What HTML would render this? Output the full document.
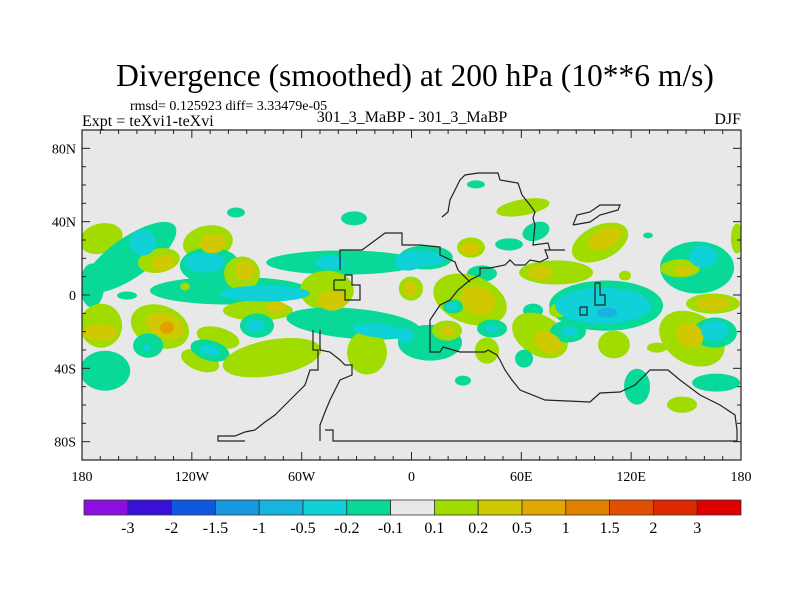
<!DOCTYPE html>
<html><head><meta charset="utf-8"><style>
body{margin:0;background:#fff;}
svg{display:block;font-family:"Liberation Serif",serif;}
</style></head><body>
<svg id="chart" width="800" height="600" viewBox="0 0 800 600">
<rect width="800" height="600" fill="#fff"/>
<text x="415" y="86" font-size="31.5" text-anchor="middle">Divergence (smoothed) at 200 hPa (10**6 m/s)</text>
<text x="130" y="110" font-size="14">rmsd= 0.125923 diff= 3.33479e-05</text>
<text x="82" y="126" font-size="16">Expt = teXvi1-teXvi</text>
<text x="412" y="122" font-size="16" text-anchor="middle">301_3_MaBP - 301_3_MaBP</text>
<text x="741" y="124" font-size="16" text-anchor="end">DJF</text>
<defs><clipPath id="pc"><rect x="82" y="130" width="659" height="330"/></clipPath></defs>
<rect x="82" y="130" width="659" height="330" fill="#e8e8e8"/>
<g id="blobs" clip-path="url(#pc)"></g>
<g id="coast" fill="none" stroke="#222" stroke-width="1.2" clip-path="url(#pc)">
<polyline points="442,217 448,212 450,200 455,190 460,180 465,175 478,173 498,173 500,180 518,183 522,195 530,205 535,212 533,218 535,225 533,245 548,243 550,250 565,250 545,250 548,258 540,262 530,260 525,265 515,265 510,260 505,265 490,268 480,268 480,275 470,280 458,290 450,300 440,305 430,320 430,352 440,352 443,347 460,352 485,352 488,350 497,355 500,360 505,370 512,380 520,390 545,400 590,402 600,393 620,392 635,385 650,370 668,370 680,380 700,395 720,405 735,415 737,430 737,441 333,441 333,430 325,430"/>
<polyline points="313,330 313,350 318,350 318,370 310,370 305,385 295,395 285,405 275,415 265,422 255,430 245,432 235,436 218,436 218,441 245,441"/>
<polyline points="320,330 320,350 330,352 340,360 345,365 352,365 352,375 340,380 335,390 330,400 325,412 320,425 320,441"/>
<polyline points="340,270 340,250 362,250 385,233 402,233 402,245 420,245 440,247 440,255 455,262 458,270 470,282"/>
<polyline points="334,280 345,280 345,275 352,275 352,285 360,285 360,300 345,300 345,290 334,290 334,280"/>
<polyline points="573,225 577,215 590,212 600,205 620,205 618,210 600,215 590,222 573,225"/>
<polyline points="595,283 600,283 600,295 605,295 605,305 595,305 595,283"/>
<polyline points="580,307 587,307 587,315 580,315 580,307"/>
</g>
<rect x="82" y="130" width="659" height="330" fill="none" stroke="#222" stroke-width="1.2"/>
<g id="axes" font-size="14"></g>
<g id="cbar"></g>
</svg>
<script>
const NS='http://www.w3.org/2000/svg';
const X0=82,X1=741,Y0=130,Y1=460;
function xLon(lon){return X0+(lon+180)*(X1-X0)/360;}
function yLat(lat){return Y1-(lat+90)*(Y1-Y0)/180;}
function dLon(d){return d*(X1-X0)/360;}
function dLat(d){return d*(Y1-Y0)/180;}
const levelColors={'-3':'#18b4e0','-2':'#10d0d8','-1':'#08d898','1':'#a0dc00','2':'#d0c800','3':'#e0a000'};
// contour blobs: centre lon, centre lat, half-width (deg lon), half-height (deg lat), level, rotation
const blobLon=[-169.6,-153.8,-146.7,-174.5,-138,-135.8,-111.2,-108.4,-99.2,-110.1,-112.8,-80,-92.6,-91,-123.7,-155.4,-37.4,-44.5,-1.9,-46.2,-43.4,-83.9,-73.5,-169.6,-170.2,-137.4,-134.7,-133.6,-143.9,-144.5,-167.4,-115.5,-105.7,-110.1,-110.1,-76.2,-84.4,-85.5,-31.9,-18.3,-24.3,-31.4,-95.9,35.2,60.9,68,53.3,32.5,32,7.9,4.6,103,105.7,79,70.2,38.5,116.6,156,159.3,146.7,148.9,177.8,106.3,104.6,106.8,32,36.3,-0.3,-0.8,22.7,22.1,66.4,80,70.2,74.6,44,44,85.5,86.6,110.6,153.2,152.1,164.7,164.7,165.8,165.8,10.1,-3.6,19.4,19.9,41.2,61.5,123.2,134.1,166.4,147.8,28.1,129.2];
const blobLat=[30.8,20.5,28.6,5.2,18.8,17.7,28.6,28.1,2.4,16.1,17.7,0.8,11.7,13.4,4.6,-0.3,17.7,17.7,17.7,2.4,-3,-8.5,-6.9,-16.7,-20.5,-17.2,-16.7,-17.8,-27.6,-28.7,-41.3,-35.8,-23.2,-30.3,-30.3,-34.2,-16.7,-16.7,-15.6,-19.4,-31.4,41.8,45,60.3,47.8,34.7,27.6,25.9,25.4,20.5,19.9,28.6,30.8,12.3,12.3,11.7,10.6,15,21,14.5,13.4,30.8,-5.8,-5.8,-9.6,-2.5,-3,3.5,3.5,-6.3,-6.3,-8.5,-8.5,-22.1,-26,-18.3,-18.3,-19.9,-19.9,-27,-23.8,-22.1,-4.7,-4.7,-20.5,-19.4,-26,-22.1,-19.4,-19.4,-30.3,-34.7,-50,-28.7,-47.8,-59.8,-46.7,32.5];
const blobRx=[12,30,7.1,6.6,11.5,6.6,13.7,7.1,43.7,16.4,10.9,24.6,9.8,5.5,2.7,5.5,42,8.2,7.1,14.7,8.2,19.1,5.5,11.5,9.8,16.4,10.9,3.8,8.2,2.2,13.7,10.9,12,10.9,5.5,27.3,9.3,5.5,36.6,13.7,10.9,7.1,4.9,4.9,14.7,7.6,7.6,7.6,5.5,14.7,13.7,16.4,9.8,20.2,6.6,8.2,3.3,20.2,7.6,10.9,5.5,3.3,31.1,26.2,5.5,20.8,9.8,6.6,3.8,5.5,3.3,5.5,4.9,16.4,8.2,8.2,3.8,9.8,4.4,8.7,19.1,7.6,14.7,9.3,12,7.6,17.5,4.4,8.2,4.4,6.6,4.9,7.1,5.5,13.1,8.2,4.4,2.7];
const blobRy=[8.2,10.9,7.1,12,6.6,4.4,9.3,5.5,7.6,9.8,5.5,4.4,9.3,5.5,2.2,2.2,6.6,3.8,4.4,10.9,5.5,5.5,3.3,12,4.4,11.5,6.6,3.3,6.6,1.6,10.9,5.5,5.5,5.5,2.7,9.8,6.6,3.3,8.2,3.8,12,3.8,2.7,2.2,4.4,4.9,3.3,5.5,3.8,6.6,4.4,9.3,5.5,6.6,3.8,4.4,2.7,14.2,6,4.9,2.7,8.2,13.7,9.8,2.7,13.1,7.6,6.6,3.8,3.8,2.2,3.8,3.8,10.9,5.5,4.9,2.2,6,2.7,7.6,13.7,6.6,5.5,3.8,8.2,5.5,9.8,4.4,5.5,2.7,7.1,4.9,9.8,2.7,4.9,4.4,2.7,1.6];
const blobLevel=[1,-1,-2,-1,1,2,1,2,-1,-1,-2,-2,1,2,1,-1,-1,-2,-2,1,2,1,2,1,2,1,2,3,-1,-2,-1,1,1,-1,-2,1,-1,-2,-1,-2,1,-1,-1,-1,1,-1,-1,1,2,-1,-2,1,2,1,2,-1,1,-1,-2,1,2,1,-1,-2,-3,1,2,1,2,-1,-2,-1,1,1,2,-1,-2,-1,-2,1,1,2,1,2,-1,-2,-1,-2,1,2,1,-1,-1,1,-1,1,-1,-1];
const blobRot=[-15,-35,0,0,-10,-10,-10,-10,0,0,0,0,0,0,0,0,0,0,0,0,0,0,0,0,0,20,20,0,0,0,0,20,15,15,15,-10,0,0,5,5,0,0,0,0,-10,-20,0,0,0,0,0,-25,-25,0,0,0,0,0,0,0,0,0,0,0,0,20,20,0,0,0,0,0,0,30,30,0,0,0,0,0,30,30,0,0,0,0,0,0,0,0,0,0,0,0,0,0,0,0];
const g=document.getElementById('blobs');
const order=blobLevel.map((l,i)=>i).sort((a,b)=>(Math.abs(blobLevel[a])-Math.abs(blobLevel[b]))||(a-b));
order.forEach(i=>{
  const e=document.createElementNS(NS,'ellipse');
  
  
  const cx=xLon(blobLon[i]),cy=yLat(blobLat[i]);
  e.setAttribute('cx',cx);e.setAttribute('cy',cy);
  e.setAttribute('rx',dLon(blobRx[i]));e.setAttribute('ry',dLat(blobRy[i]));
  e.setAttribute('fill',levelColors[blobLevel[i]]);
  e.setAttribute('transform','rotate('+blobRot[i]+' '+cx+' '+cy+')');
  g.appendChild(e);
});
const latTicks=[80,40,0,-40,-80];
const latLabels=['80N','40N','0','40S','80S'];
const lonTicks=[-180,-120,-60,0,60,120,180];
const lonLabels=['180','120W','60W','0','60E','120E','180'];
const ax=document.getElementById('axes');
function mk(tag,attrs,name,txt){const e=document.createElementNS(NS,tag);for(const k in attrs)e.setAttribute(k,attrs[k]);
  
  
  if(txt!==undefined)e.textContent=txt;ax.appendChild(e);return e;}
for(let lat=-90;lat<=90;lat+=10){const y=yLat(lat);const L=(lat%40===0)?8:4;
  mk('line',{x1:X0,x2:X0+L,y1:y,y2:y,stroke:'#222'},'y-tick');
  mk('line',{x1:X1,x2:X1-L,y1:y,y2:y,stroke:'#222'},'y-tick-right');}
for(let lon=-180;lon<=180;lon+=10){const x=xLon(lon);const L=(lon%60===0)?8:4;
  mk('line',{x1:x,x2:x,y1:Y1,y2:Y1-L,stroke:'#222'},'x-tick');
  mk('line',{x1:x,x2:x,y1:Y0,y2:Y0+L,stroke:'#222'},'x-tick-top');}
latTicks.forEach((t,i)=>mk('text',{x:X0-6,y:yLat(t)+5,'text-anchor':'end'},'y-tick-label',latLabels[i]));
lonTicks.forEach((t,i)=>mk('text',{x:xLon(t),y:481,'text-anchor':'middle'},'x-tick-label',lonLabels[i]));
const cbColors=['#8a10e0','#3a10d8','#1058e0','#1898e0','#18b4e0','#10d0d8','#08d898','#e8e8e8','#a0dc00','#d0c800','#e0a800','#e08000','#e05000','#e02800','#e00000'];
const cbLabels=['-3','-2','-1.5','-1','-0.5','-0.2','-0.1','0.1','0.2','0.5','1','1.5','2','3'];
const cb=document.getElementById('cbar');
const cw=(741-84)/cbColors.length;
cbColors.forEach((c,i)=>{const r=document.createElementNS(NS,'rect');
  
  
  r.setAttribute('x',84+i*cw);r.setAttribute('y',500);r.setAttribute('width',cw);r.setAttribute('height',15);
  r.setAttribute('fill',c);r.setAttribute('stroke','#333');r.setAttribute('stroke-width','0.8');cb.appendChild(r);});
cbLabels.forEach((t,i)=>{const e=document.createElementNS(NS,'text');
  
  
  e.setAttribute('x',84+(i+1)*cw);e.setAttribute('y',533);e.setAttribute('text-anchor','middle');e.setAttribute('font-size','16');
  e.textContent=t;cb.appendChild(e);});
</script>
</body></html>
